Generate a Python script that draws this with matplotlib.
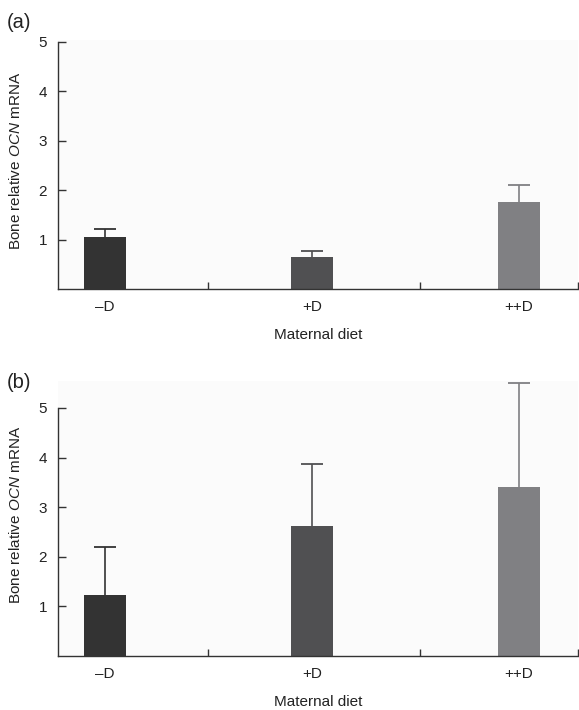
import matplotlib
matplotlib.use("Agg")
import matplotlib.pyplot as plt
import numpy as np

plt.rcParams['font.family'] = ['Liberation Sans', 'DejaVu Sans']
plt.rcParams['mathtext.fontset'] = 'custom'
plt.rcParams['mathtext.rm'] = 'Liberation Sans'
plt.rcParams['mathtext.it'] = 'Liberation Sans:italic'

categories = ['\u2013D', '+D', '++D']
values_a = [1.05, 0.65, 1.76]
errors_a = [0.16, 0.12, 0.34]
values_b = [1.23, 2.62, 3.41]
errors_b = [0.97, 1.25, 2.09]
colors = ['#333333', '#505052', '#808083']
yticks = [1, 2, 3, 4, 5]

fig = plt.figure(figsize=(5.79, 7.1), dpi=100)
fig.patch.set_facecolor('white')

ax_a = fig.add_axes([58/579, 1-289/710, 520/579, 249.5/710])
ax_b = fig.add_axes([58/579, 1-656/710, 520/579, 275.3/710])

BAR_W = 0.2
CAP_W = 0.107

def draw(ax, vals, errs, ytop, label_y):
    x = np.arange(len(categories))
    ax.set_facecolor('#fbfbfb')
    for i in range(len(categories)):
        ax.bar(x[i], vals[i], width=BAR_W, color=colors[i], zorder=2)
        ax.vlines(x[i], vals[i], vals[i] + errs[i], color=colors[i], linewidth=1.2, zorder=3)
        ax.hlines(vals[i] + errs[i], x[i] - CAP_W / 2, x[i] + CAP_W / 2,
                  color=colors[i], linewidth=1.3, zorder=3)
    ax.set_xlim(-0.227, 2.285)
    ax.set_ylim(0, ytop)
    for s in ['top', 'right']:
        ax.spines[s].set_visible(False)
    ax.spines['left'].set_bounds(0, 5)
    for s in ['left', 'bottom']:
        ax.spines[s].set_color('#333333')
        ax.spines[s].set_linewidth(1.0)
    ax.set_yticks(yticks)
    ax.set_yticklabels([str(t) for t in yticks], fontsize=11, color='#222222')
    ax.tick_params(axis='y', direction='in', length=5.5, width=1.0, pad=8, color='#333333')
    ax.set_xticks(x)
    ax.set_xticklabels(categories, fontsize=11, color='#222222')
    ax.tick_params(axis='x', which='major', length=0, pad=8)
    ax.set_xticks([0.5, 1.52, 2.285], minor=True)
    ax.tick_params(axis='x', which='minor', direction='in', length=5, width=1.0, color='#333333')
    ax.set_xlabel('Maternal diet', fontsize=11, labelpad=10, color='#222222')
    ax.set_ylabel(r'Bone relative $\it{OCN}$ mRNA', fontsize=11, color='#222222')
    ax.yaxis.set_label_coords(-0.067, label_y)

draw(ax_a, values_a, errors_a, 5.05, 0.512)
draw(ax_b, values_b, errors_b, 5.55, 0.512)

fig.text(7/579, 1-22/710, '(a)', fontsize=14.5, va='center', ha='left', color='#222222')
fig.text(7/579, 1-383/710, '(b)', fontsize=14.5, va='center', ha='left', color='#222222')

fig.savefig('out.png', dpi=100, facecolor='white')
